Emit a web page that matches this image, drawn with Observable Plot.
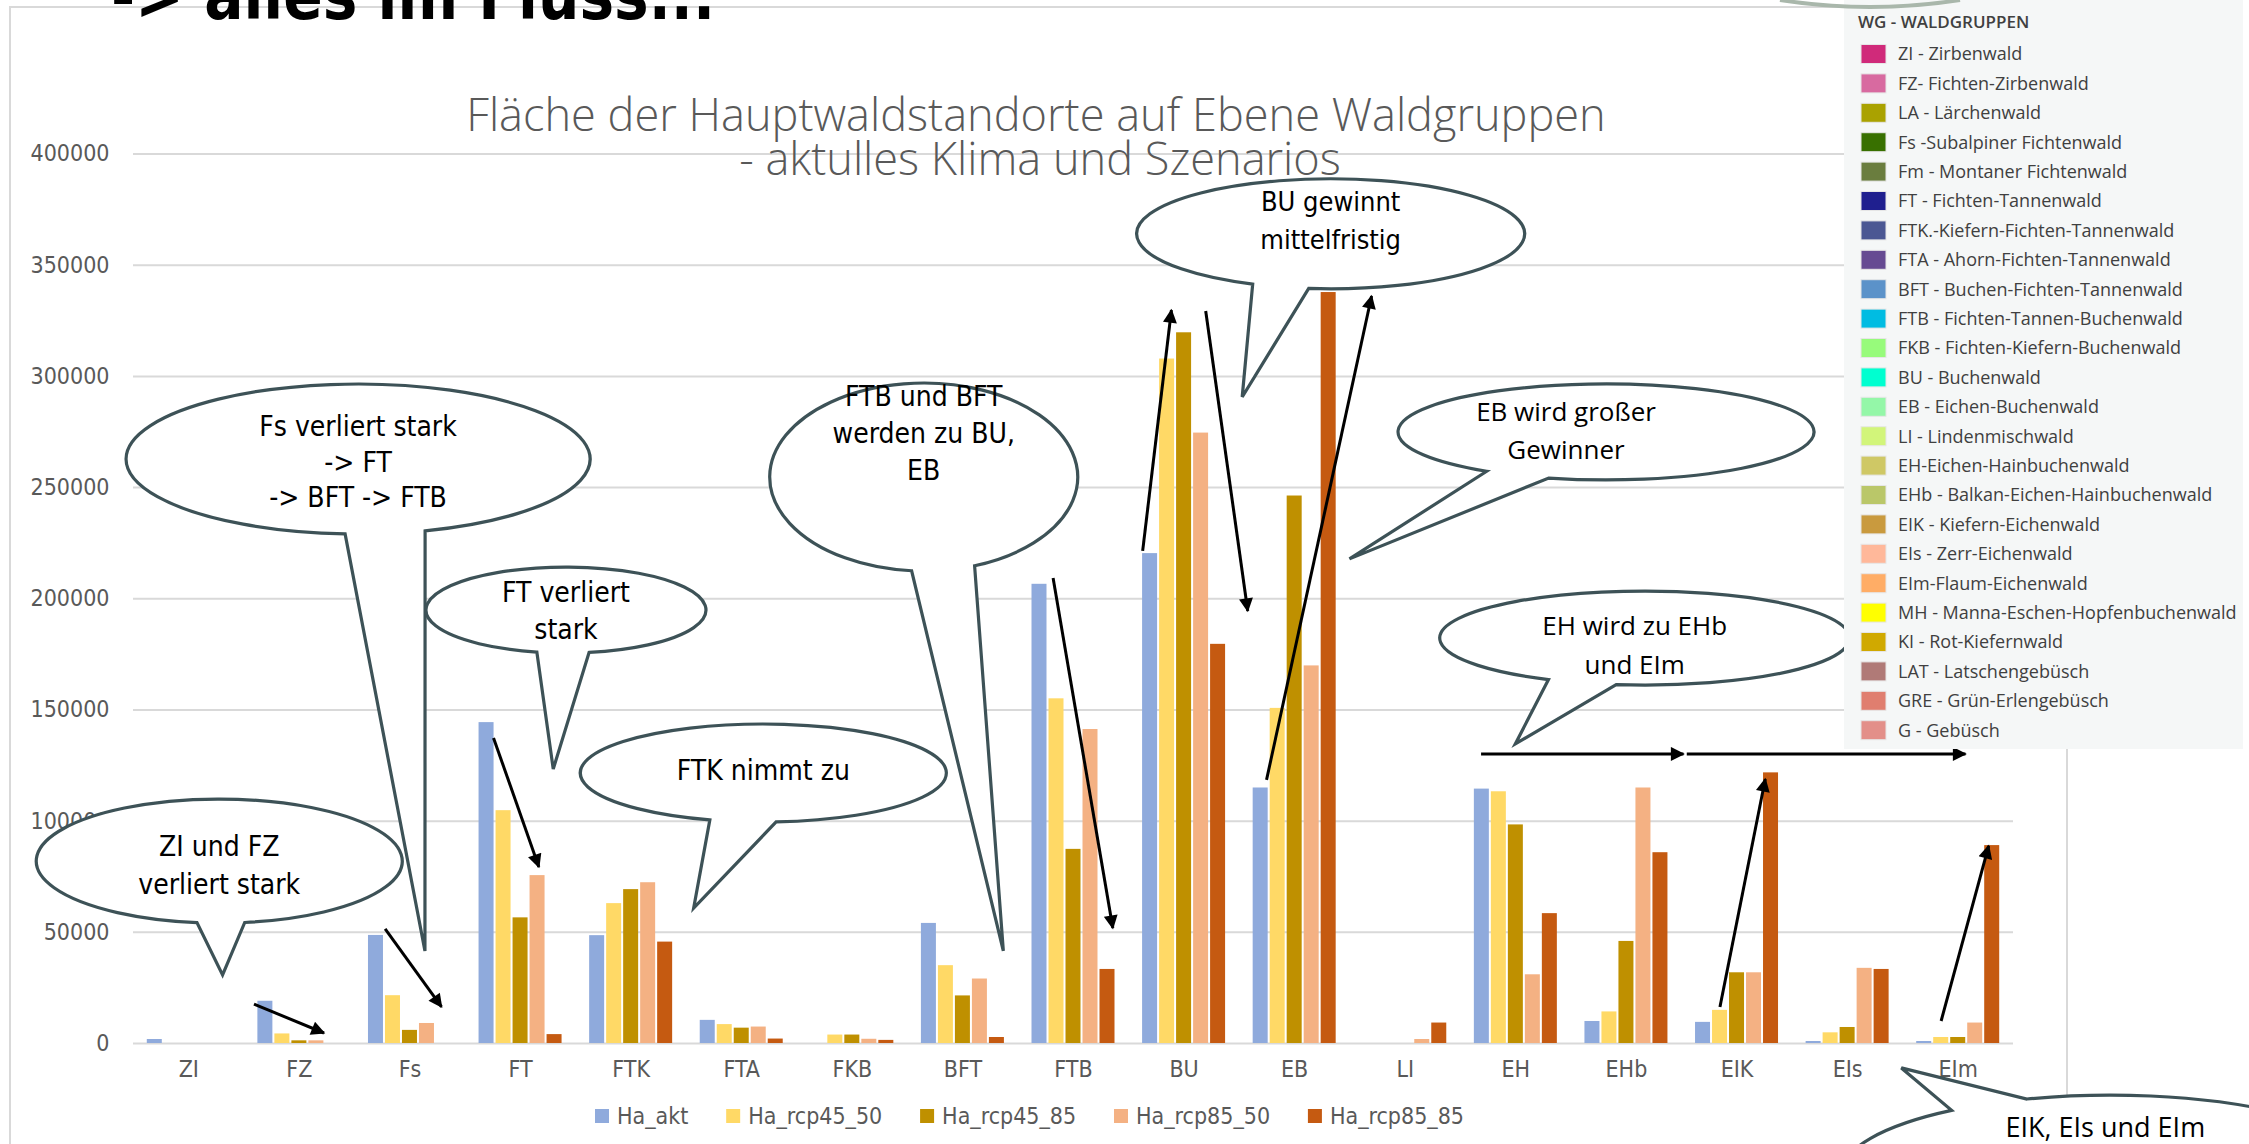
<!DOCTYPE html>
<html>
<head>
<meta charset="utf-8">
<script src="https://cdn.jsdelivr.net/npm/d3@7"></script>
<script src="https://cdn.jsdelivr.net/npm/@observablehq/plot@0.6"></script>
<style>
  html, body { margin: 0; padding: 0; background: #ffffff; width: 2249px; height: 1144px; overflow: hidden; }
  #chart { position: absolute; left: 0; top: 0; }
</style>
</head>
<body>
<div id="chart"></div>
<script>
// ---------------- DATA ----------------
const categories = ["ZI","FZ","Fs","FT","FTK","FTA","FKB","BFT","FTB","BU","EB","LI","EH","EHb","EIK","EIs","EIm"];
const seriesNames = ["Ha_akt","Ha_rcp45_50","Ha_rcp45_85","Ha_rcp85_50","Ha_rcp85_85"];
const haAkt      = [1800, 19000, 48600, 144300, 48500, 10400,    0, 54000, 206500, 220300, 114900,    0, 114400,   9900,   9500,   900,   900];
const haRcp45_50 = [   0,  4300, 21500, 104700, 62900,  8500, 3800, 35000, 155000, 307800, 150700,    0, 113200,  14200,  14900,  4800,  2700];
const haRcp45_85 = [   0,  1200,  5900,  56500, 69200,  6900, 3800, 21400,  87300, 319600, 246200,    0,  98300,  45900,  31800,  7200,  2700];
const haRcp85_50 = [   0,  1200,  9000,  75500, 72300,  7400, 1900, 29000, 141200, 274500, 169800, 1800,  30900, 114900,  31800, 33800,  9200];
const haRcp85_85 = [   0,     0,     0,   4000, 45600,  2000, 1400,  2700,  33300, 179500, 337700, 9200,  58400,  85800, 121700, 33300, 89000];
const seriesValues = [haAkt, haRcp45_50, haRcp45_85, haRcp85_50, haRcp85_85];
const seriesColors = ["#8faadc","#ffd966","#bf9000","#f4b183","#c55a11"];
const yTicks = [0, 50000, 100000, 150000, 200000, 250000, 300000, 350000, 400000];

const titleLines = ["Fläche der Hauptwaldstandorte auf Ebene Waldgruppen", "- aktulles Klima und Szenarios"];
const headingText = "-> alles im Fluss...";

const wgTitle = "WG - WALDGRUPPEN";
const wgLabels = ["ZI - Zirbenwald","FZ- Fichten-Zirbenwald","LA - Lärchenwald","Fs -Subalpiner Fichtenwald","Fm - Montaner Fichtenwald","FT - Fichten-Tannenwald","FTK.-Kiefern-Fichten-Tannenwald","FTA - Ahorn-Fichten-Tannenwald","BFT - Buchen-Fichten-Tannenwald","FTB - Fichten-Tannen-Buchenwald","FKB - Fichten-Kiefern-Buchenwald","BU - Buchenwald","EB - Eichen-Buchenwald","LI - Lindenmischwald","EH-Eichen-Hainbuchenwald","EHb - Balkan-Eichen-Hainbuchenwald","EIK - Kiefern-Eichenwald","EIs - Zerr-Eichenwald","EIm-Flaum-Eichenwald","MH - Manna-Eschen-Hopfenbuchenwald","KI - Rot-Kiefernwald","LAT - Latschengebüsch","GRE - Grün-Erlengebüsch","G - Gebüsch"];
const wgColors = ["#d02a7a","#d86aa0","#aaa200","#387000","#6a7d3e","#1f1f8f","#4b5793","#664a92","#5b92c9","#00bce2","#97fb7b","#00ffd0","#94f7a8","#d2f57a","#cfc865","#bac769","#c99a3e","#ffb89a","#ffad66","#ffff00","#d0a900","#b07a77","#e07e6f","#e38f89"];

// Callouts: centre & tip in data coordinates (category index, hectares)
const callouts = [
  {lines:["ZI und FZ","verliert stark"], ci:0.28, cv:81800, rx:183, ry:62, a1:97, a2:82, ti:0.31, tv:30600, font:"narrow", size:28, offs:[-15,23], dx:0},
  {lines:["Fs verliert stark","-> FT","-> BFT -> FTB"], ci:1.535, cv:262600, rx:232, ry:75, a1:93.2, a2:73.2, ti:2.14, tv:41400, font:"narrow", size:28, offs:[-33,3,38], dx:0},
  {lines:["FT verliert","stark"], ci:3.415, cv:194700, rx:140, ry:43, a1:102, a2:80.5, ti:3.30, tv:123200, font:"narrow", size:28, offs:[-18,19], dx:0},
  {lines:["FTK nimmt zu"], ci:5.20, cv:121400, rx:183, ry:49, a1:107, a2:86, ti:4.57, tv:60700, font:"narrow", size:28, offs:[-3], dx:0},
  {lines:["FTB und BFT","werden zu BU,","EB"], ci:6.65, cv:254500, rx:154, ry:94, a1:94.5, a2:70.7, ti:7.37, tv:41400, font:"narrow", size:28, offs:[-81,-44,-7], dx:0},
  {lines:["BU gewinnt","mittelfristig"], ci:10.33, cv:363900, rx:194, ry:55, a1:113.7, a2:96.5, ti:9.53, tv:290500, font:"narrow", size:27, offs:[-32,6], dx:0},
  {lines:["EB wird großer","Gewinner"], ci:12.82, cv:274800, rx:208, ry:48, a1:125, a2:106, ti:10.50, tv:217700, font:"wide", size:26, offs:[-20,18], dx:-40},
  {lines:["EH wird zu EHb","und EIm"], ci:13.17, cv:182100, rx:205, ry:47, a1:118, a2:98, ti:12.00, tv:134500, font:"wide", size:26, offs:[-12,27], dx:-10},
  {lines:["EIK, EIs und EIm"], ci:17.38, cv:-59400, rx:270, ry:80, a1:234, a2:252, ti:15.49, tv:-11200, font:"wide", size:27, offs:[-48], dx:-5}
];
// Arrows in data coordinates
const arrows = [
  {i1:0.594, v1:17500, i2:1.227, v2:4500},
  {i1:1.78, v1:51300, i2:2.29, v2:16200},
  {i1:2.76, v1:137200, i2:3.17, v2:79200},
  {i1:7.82, v1:209100, i2:8.36, v2:51700},
  {i1:8.63, v1:221300, i2:8.89, v2:329600},
  {i1:9.20, v1:329200, i2:9.58, v2:194300},
  {i1:9.75, v1:118300, i2:10.70, v2:335900},
  {i1:11.69, v1:130000, i2:13.52, v2:130000},
  {i1:13.55, v1:130000, i2:16.07, v2:130000},
  {i1:13.85, v1:16200, i2:14.26, v2:118700},
  {i1:15.85, v1:9900, i2:16.28, v2:88600}
];

// ---------------- CHART ----------------
const W = 2249, H = 1144;
const NARROW = "'Liberation Sans Narrow', 'DejaVu Sans Condensed', 'Roboto', sans-serif";
const WIDE = "'Open Sans', 'Noto Sans', sans-serif";
const bw = 15 / 110.59, pitch = 17 / 110.59;

const rows = categories.flatMap((c, i) => seriesNames.map((s, k) => ({i, cat: c, k, series: s, value: seriesValues[k][i]})));

const chart = Plot.plot({
  width: W, height: H,
  marginLeft: 133, marginRight: 236, marginTop: 153.5, marginBottom: 101,
  x: {domain: [-0.5, categories.length - 0.5], axis: null},
  y: {domain: [0, 400000], axis: null},
  color: {domain: seriesNames, range: seriesColors},
  style: {background: "transparent", fontFamily: NARROW, fontSize: "23px", color: "#595959", overflow: "visible"},
  marks: [
    Plot.ruleY(yTicks, {stroke: "#d9d9d9", strokeWidth: 2}),
    Plot.rectY(rows, {
      x1: d => d.i + (d.k - 2) * pitch - bw / 2,
      x2: d => d.i + (d.k - 2) * pitch + bw / 2,
      y1: 0, y2: "value", fill: "series"
    }),
    Plot.axisY({ticks: yTicks, tickSize: 0, tickPadding: 24, tickFormat: d => String(d), fontSize: 23, fill: "#595959", label: null}),
    Plot.axisX({ticks: d3.range(categories.length), tickSize: 0, tickPadding: 17, tickFormat: i => categories[i], fontSize: 23, fill: "#595959", label: null})
  ]
});
document.getElementById("chart").appendChild(chart);

const svg = d3.select(chart);
const sx = chart.scale("x"), sy = chart.scale("y");
const X = v => sx.apply(v), Y = v => sy.apply(v);

// frame (behind)
svg.insert("rect", ":first-child")
  .attr("x", 10).attr("y", 7).attr("width", 2057).attr("height", 1300)
  .attr("fill", "none").attr("stroke", "#d9d9d9").attr("stroke-width", 2);

function fitText(sel, target) {
  const w = sel.node().getComputedTextLength();
  const fs = parseFloat(sel.attr("font-size"));
  sel.attr("font-size", fs * target / w);
}

// heading (cut off at top)
svg.append("text").attr("x", 111).attr("y", 19).attr("text-anchor", "start").attr("font-family", NARROW)
  .attr("font-weight", "bold").attr("font-size", 68).attr("fill", "#000")
  .attr("textLength", 604).attr("lengthAdjust", "spacingAndGlyphs").text(headingText);

// title
const t1 = svg.append("text").attr("x", 1036).attr("y", 131).attr("text-anchor", "middle")
  .attr("font-family", WIDE).attr("font-weight", 300).attr("font-size", 38).attr("fill", "#595959").text(titleLines[0]);
fitText(t1, 1140);
svg.append("text").attr("x", 1040).attr("y", 175).attr("text-anchor", "middle")
  .attr("font-family", WIDE).attr("font-weight", 300).attr("font-size", t1.attr("font-size")).attr("fill", "#595959").text(titleLines[1]);

// arrow marker
svg.append("defs").append("marker").attr("id", "ah")
  .attr("viewBox", "0 0 10 10").attr("refX", 9).attr("refY", 5)
  .attr("markerUnits", "userSpaceOnUse").attr("markerWidth", 18).attr("markerHeight", 14)
  .attr("orient", "auto")
  .append("path").attr("d", "M0,0 L10,5 L0,10 z").attr("fill", "#000");

svg.append("g").selectAll("line").data(arrows).join("line")
  .attr("x1", d => X(d.i1)).attr("y1", d => Y(d.v1))
  .attr("x2", d => X(d.i2)).attr("y2", d => Y(d.v2))
  .attr("stroke", "#000").attr("stroke-width", 3).attr("marker-end", "url(#ah)");

// callouts
const gC = svg.append("g");
callouts.forEach(c => {
  const cx = X(c.ci), cy = Y(c.cv), tx = X(c.ti), ty = Y(c.tv);
  const P = a => [cx + c.rx * Math.cos(a * Math.PI / 180), cy + c.ry * Math.sin(a * Math.PI / 180)];
  const p1 = P(c.a1), p2 = P(c.a2);
  const d = (((c.a2 - c.a1) % 360) + 360) % 360;
  const sweep = d < 180 ? 0 : 1;
  const path = `M${p1[0]},${p1[1]} A${c.rx},${c.ry} 0 1 ${sweep} ${p2[0]},${p2[1]} L${tx},${ty} Z`;
  gC.append("path").attr("d", path).attr("fill", "#fff").attr("stroke", "#3d5257").attr("stroke-width", 3.2).attr("stroke-linejoin", "miter");
  c.lines.forEach((ln, j) => {
    gC.append("text").attr("x", cx + c.dx).attr("y", cy + c.offs[j]).attr("dy", "0.36em")
      .attr("text-anchor", "middle").attr("font-family", c.font === "narrow" ? NARROW : WIDE)
      .attr("font-size", c.size).attr("fill", "#000").text(ln);
  });
});

// bottom series legend (flow between 595 and 1464)
const gL = svg.append("g");
const legTexts = seriesNames.map(s => gL.append("text").attr("y", 1116).attr("dy", "0.36em").attr("text-anchor", "start")
  .attr("font-family", NARROW).attr("font-size", 23).attr("fill", "#595959").text(s));
const legW = legTexts.map(t => t.node().getComputedTextLength());
const legStart = 595, legEnd = 1464;
const legGap = (legEnd - legStart - d3.sum(legW) - 5 * 22) / 4;
let lx = legStart;
seriesNames.forEach((s, k) => {
  gL.append("rect").attr("x", lx).attr("y", 1109).attr("width", 14).attr("height", 14).attr("fill", seriesColors[k]);
  legTexts[k].attr("x", lx + 22);
  lx += 22 + legW[k] + legGap;
});

// WG legend panel
const gW = svg.append("g");
gW.append("rect").attr("x", 1844).attr("y", 0).attr("width", 399).attr("height", 749).attr("fill", "#f5f7f7");
gW.append("text").attr("x", 1858).attr("y", 22).attr("dy", "0.36em").attr("text-anchor", "start").attr("font-family", WIDE)
  .attr("font-weight", 600).attr("font-size", 17).attr("fill", "#404040").text(wgTitle);
wgLabels.forEach((lab, i) => {
  const yc = 54 + i * 29.4;
  gW.append("rect").attr("x", 1861).attr("y", yc - 9.5).attr("width", 25).attr("height", 19)
    .attr("fill", wgColors[i]).attr("stroke", "#e6e6e6").attr("stroke-width", 1);
  gW.append("text").attr("x", 1898).attr("y", yc).attr("dy", "0.36em").attr("text-anchor", "start").attr("font-family", WIDE)
    .attr("font-size", 18).attr("fill", "#404040").text(lab);
});
// decorative curve at top
svg.append("path").attr("d", "M1780,0 Q1870,14 1960,0").attr("fill", "none").attr("stroke", "#a9b7ab").attr("stroke-width", 4);
</script>
</body>
</html>
